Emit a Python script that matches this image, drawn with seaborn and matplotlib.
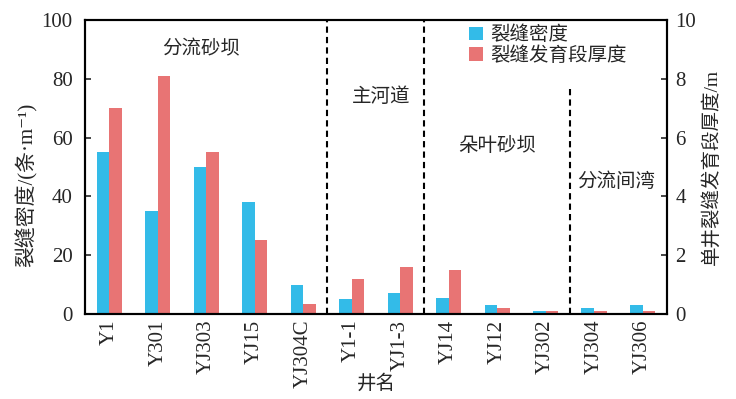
import matplotlib
matplotlib.use("Agg")
import matplotlib.pyplot as plt
import seaborn as sns
import pandas as pd
import numpy as np
from matplotlib.patches import Patch

wells = ["Y1", "Y301", "YJ303", "YJ15", "YJ304C", "Y1-1", "YJ1-3",
         "YJ14", "YJ12", "YJ302", "YJ304", "YJ306"]
density = [55, 35, 50, 38, 10, 5, 7.3, 5.3, 3, 1, 2, 3]          # 条/m
thickness = [7.0, 8.1, 5.5, 2.5, 0.33, 1.2, 1.6, 1.5, 0.22, 0.1, 0.1, 0.1]  # m
facies = ["分流砂坝", "主河道", "朵叶砂坝", "分流间湾"]
series_names = ["裂缝密度", "裂缝发育段厚度"]

LEFT_MAX, RIGHT_MAX = 100, 10
scale = LEFT_MAX / RIGHT_MAX

df = pd.DataFrame({
    "well": wells * 2,
    "value": list(density) + [t * scale for t in thickness],
    "series": [series_names[0]] * len(wells) + [series_names[1]] * len(wells),
})

sns.set_theme(style="white")
fam = ["Liberation Serif", "DejaVu Serif", "Noto Sans CJK SC"]
plt.rcParams["font.family"] = fam
plt.rcParams["axes.unicode_minus"] = False

fig = plt.figure(figsize=(7.36, 3.99), dpi=100)
ax = fig.add_axes([0.1155, 0.213, 0.7905, 0.737])

blue = "#33BBE8"
pink = "#E87474"
sns.barplot(data=df, x="well", y="value", hue="series", order=wells,
            palette=[blue, pink], width=0.52, ax=ax, legend=False,
            saturation=1, linewidth=0, edgecolor="none")

ax.set_xlim(-0.5, len(wells) - 0.5)
ax.set_ylim(0, LEFT_MAX)
ax.set_yticks(np.arange(0, 101, 20))
ax.tick_params(axis="y", direction="in", length=4, width=1.2, labelsize=15, pad=9)
ax.tick_params(axis="x", length=0, labelsize=15, pad=4)
for lbl in ax.get_xticklabels():
    lbl.set_rotation(90)
    lbl.set_va("top")
    lbl.set_ha("center")
for s in ax.spines.values():
    s.set_linewidth(1.5)
    s.set_color("black")

ax.set_xlabel("井名", fontsize=14, family=fam, va="center")
ax.xaxis.set_label_coords(0.5, -0.235)
ax.set_ylabel("裂缝密度/(条·m⁻¹)", fontsize=15, family=fam, va="center")
ax.yaxis.set_label_coords(-0.1, 0.44)

ax2 = ax.twinx()
ax2.set_ylim(0, RIGHT_MAX)
ax2.set_yticks(np.arange(0, 11, 2))
ax2.tick_params(axis="y", direction="in", length=4, width=1.2, labelsize=15, pad=6)
ax2.set_ylabel("单井裂缝发育段厚度/m", fontsize=14, family=fam, labelpad=4)
for s in ax2.spines.values():
    s.set_linewidth(1.5)
    s.set_color("black")

# facies boundaries
for xb in [4.5, 6.5]:
    ax.axvline(xb, color="black", linestyle=(0, (3, 2)), linewidth=1.5)
ax.plot([9.5, 9.5], [0, 78], color="black", linestyle=(0, (3, 2)), linewidth=1.5)

ax.text(1.9, 90, facies[0], fontsize=14, family=fam, ha="center", va="center")
ax.text(5.6, 74, facies[1], fontsize=14, family=fam, ha="center", va="center")
ax.text(8.0, 57, facies[2], fontsize=14, family=fam, ha="center", va="center")
ax.text(10.45, 45, facies[3], fontsize=14, family=fam, ha="center", va="center")

handles = [Patch(facecolor=blue, edgecolor="none"), Patch(facecolor=pink, edgecolor="none")]
leg = ax.legend(handles, series_names, loc="upper left", bbox_to_anchor=(0.64, 1.02),
                frameon=False, prop={"family": fam, "size": 14},
                handlelength=0.7, handleheight=0.7, handletextpad=0.4,
                labelspacing=0.1, borderaxespad=0.2)

fig.savefig("out.png", dpi=100)
